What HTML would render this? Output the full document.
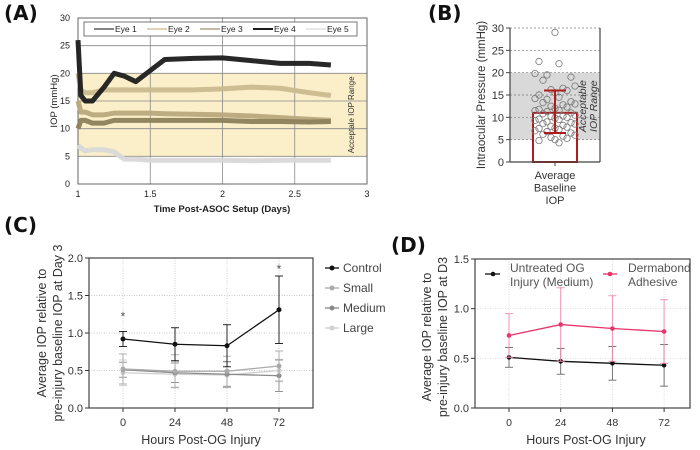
<!DOCTYPE html>
<html><head><meta charset="utf-8"><style>
body{margin:0;background:#fff;width:700px;height:450px;overflow:hidden}
svg{display:block;font-family:"Liberation Sans",sans-serif}
</style></head><body>
<svg id="fig" width="700" height="450" viewBox="0 0 700 450"></svg>
<script>
// ---- Panel A data ----
const aTimes=[1.0,1.02,1.05,1.1,1.18,1.25,1.32,1.4,1.5,1.6,1.8,2.0,2.2,2.4,2.6,2.75];
const aEye1=[10,11.5,11.5,11,11,11.5,11.5,11.5,11.5,11.5,11.5,11.5,11.3,11.3,11.2,11.3];
const aEye2=[20,17,16.5,16.5,17,17,17,17,17,17,17,17.2,17.5,17.3,16.5,16];
const aEye3=[15,13,13,12.5,12.5,12.8,12.8,12.8,12.8,12.7,12.6,12.5,12.3,12,11.7,11.5];
const aEye4=[26,16,15,15,17.5,20,19.5,18.5,20.5,22.5,22.7,22.8,22.3,21.8,21.8,21.5];
const aEye5=[7,6.5,6,6.2,6.2,5.8,4.5,4.5,4.3,4.3,4.3,4.3,4.2,4.3,4.3,4.3];
const aLegend=["Eye 1","Eye 2","Eye 3","Eye 4","Eye 5"];
const aXTicks=[1,1.5,2,2.5,3];
const aYTicks=[0,5,10,15,20,25,30];
// ---- Panel B data ----
const bPoints=[29,22.5,22,19.8,19.5,19,18.3,17,16.5,16.2,16,15.5,15,14.5,14.2,14,13.5,13.3,13,12.8,12.5,12.3,12,11.8,11.6,11.5,11.3,11,10.8,10.5,10.3,10.2,10,9.8,9.6,9.5,9.3,9,8.8,8.6,8.5,8.2,8,7.8,7.6,7.5,7.3,7,6.8,6.5,6.2,6,5.8,5.5,5.3,5,4.8,4.3];
const bMean=11, bLow=6.5, bHigh=16;
const bYTicks=[0,5,10,15,20,25,30];
// ---- Panel C data ----
const cCats=[0,24,48,72];
const cControl=[0.92,0.85,0.83,1.31], cControlErr=[0.1,0.22,0.28,0.45];
const cSmall=[0.52,0.49,0.49,0.56], cSmallErr=[0.2,0.22,0.2,0.2];
const cMedium=[0.51,0.47,0.45,0.43], cMediumErr=[0.1,0.13,0.17,0.21];
const cLarge=[0.47,0.45,0.44,0.5], cLargeErr=[0.17,0.17,0.17,0.15];
const cYTicks=[0,0.5,1,1.5,2];
const cStars=[[0,1.25],[72,1.88]];
// ---- Panel D data ----
const dUntreated=[0.51,0.47,0.45,0.43], dUntreatedErr=[0.1,0.13,0.17,0.21];
const dDerma=[0.73,0.84,0.8,0.77], dDermaErr=[0.22,0.37,0.33,0.32];
const dYTicks=[0,0.5,1,1.5];

const NS="http://www.w3.org/2000/svg", svg=document.getElementById('fig');
function mk(tag,attrs,parent,text){const e=document.createElementNS(NS,tag);for(const k in attrs)e.setAttribute(k,attrs[k]);if(text!==undefined)e.textContent=text;(parent||svg).appendChild(e);return e;}
function grp(name){const g=mk('g',{});return g;}

// panel labels
[["(A)",4,20],["(B)",428,20],["(C)",4,232],["(D)",391,252]].forEach(p=>{
 const t=mk('text',{x:p[1],y:p[2],'font-size':20,'font-weight':'bold',fill:'#111','font-family':'"DejaVu Sans",sans-serif'},svg,p[0]);
 });

// ===== Panel A =====
(function(){
 const g=grp('panel-a-chart');
 const x=v=>78+(v-1)/2*289, y=v=>184-v/30*166;
 mk('rect',{x:x(1),y:y(20),width:x(3)-x(1),height:y(5)-y(20),fill:'#fbefc9'},g);
 aXTicks.forEach(t=>{mk('line',{x1:x(t),x2:x(t),y1:y(0),y2:y(30),stroke:'#888','stroke-width':0.8},g);
  mk('text',{x:x(t),y:197,'font-size':9,'text-anchor':'middle',fill:'#222'},g,String(t));});
 aYTicks.forEach(t=>{mk('line',{x1:x(1),x2:x(3),y1:y(t),y2:y(t),stroke:'#888','stroke-width':0.8},g);
  mk('text',{x:70,y:y(t)+3,'font-size':9,'text-anchor':'end',fill:'#222'},g,String(t));});
 mk('rect',{x:x(1),y:y(30),width:x(3)-x(1),height:y(0)-y(30),fill:'none',stroke:'#666','stroke-width':1},g);
 const series=[[aEye5,'#d8d8d8'],[aEye3,'#b7a87e'],[aEye1,'#8c7f5c'],[aEye2,'#c9b98f'],[aEye4,'#1c1c1c']];
 series.forEach((s,i)=>{const p=mk('polyline',{points:aTimes.map((t,j)=>x(t)+','+y(s[0][j])).join(' '),fill:'none',stroke:s[1],'stroke-width':5,'stroke-linejoin':'round',opacity:0.95},g);
  });
 const lt=mk('text',{transform:`translate(354,${y(12.5)}) rotate(-90)`,'font-size':8,'text-anchor':'middle',fill:'#333'},g,'Acceptale IOP Range');
 
 const lg=grp('legend');g.appendChild(lg);
 mk('rect',{x:84,y:22,width:273,height:14,fill:'#fff',stroke:'#555','stroke-width':0.8},lg);
 const lc=['#3a3a3a','#c9b98f','#a09370','#1c1c1c','#dadada'];
 aLegend.forEach((n,i)=>{const bx=94+i*53;mk('line',{x1:bx,x2:bx+20,y1:29,y2:29,stroke:lc[i],'stroke-width':i==3?2:1.2},lg);
  const t=mk('text',{x:bx+21,y:32,'font-size':8.5,fill:'#222'},lg,n);});
 mk('text',{transform:`translate(57,${y(15)}) rotate(-90)`,'font-size':9.5,'text-anchor':'middle',fill:'#222'},g,'IOP (mmHg)');
 mk('text',{x:222,y:212,'font-size':9.5,'font-weight':'bold','text-anchor':'middle',fill:'#222'},g,'Time Post-ASOC Setup (Days)');
})();

// ===== Panel B =====
(function(){
 const g=grp('panel-b-chart');
 const L=510,R=600,y=v=>162-v/30*134;
 mk('rect',{x:L,y:y(20),width:R-L,height:y(5)-y(20),fill:'#d9d9d9'},g);
 bYTicks.forEach(t=>{if(t>0)mk('line',{x1:L,x2:R,y1:y(t),y2:y(t),stroke:'#777','stroke-width':0.7,'stroke-dasharray':'2,2'},g);
  mk('line',{x1:L-4,x2:L,y1:y(t),y2:y(t),stroke:'#444'},g);
  mk('text',{x:L-6,y:y(t)+4,'font-size':11,'text-anchor':'end',fill:'#333'},g,String(t));});
 const bar=mk('rect',{x:533,y:y(bMean),width:44,height:y(0)-y(bMean),fill:'#fff',stroke:'#b01c1c','stroke-width':2},g);
 
 const cx=555;
 const jit=[0,-8,8,-16,16,-4,4,-12,12,-20,20];
 bPoints.forEach((v,i)=>{const off=jit[(i*3)%11];const c=mk('circle',{cx:cx+off,cy:y(v),r:3.2,fill:'none',stroke:'#777','stroke-width':0.8},g);
  });
 mk('line',{x1:cx,x2:cx,y1:y(bLow),y2:y(bHigh),stroke:'#b01c1c','stroke-width':2},g);
 mk('line',{x1:cx-11,x2:cx+11,y1:y(bLow),y2:y(bLow),stroke:'#b01c1c','stroke-width':2},g);
 mk('line',{x1:cx-11,x2:cx+11,y1:y(bHigh),y2:y(bHigh),stroke:'#b01c1c','stroke-width':2},g);
 mk('line',{x1:L,x2:L,y1:y(30),y2:y(0),stroke:'#444','stroke-width':1.2},g);
 mk('line',{x1:L,x2:R,y1:y(0),y2:y(0),stroke:'#444','stroke-width':1.2},g);
 mk('line',{x1:R,x2:R,y1:y(30),y2:y(0),stroke:'#444','stroke-width':1.2},g);
 mk('line',{x1:cx,x2:cx,y1:y(0),y2:y(0)+4,stroke:'#444'},g);
 mk('text',{transform:`translate(586,${y(12.5)}) rotate(-90)`,'font-size':10.5,'font-style':'italic','text-anchor':'middle',fill:'#333'},g,'Acceptable');
 mk('text',{transform:`translate(597,${y(12.5)}) rotate(-90)`,'font-size':10.5,'font-style':'italic','text-anchor':'middle',fill:'#333'},g,'IOP Range');
 mk('text',{transform:`translate(485,${y(15)}) rotate(-90)`,'font-size':11.5,'text-anchor':'middle',fill:'#333'},g,'Intraocular Pressure (mmHg)');
 ['Average','Baseline','IOP'].forEach((s,i)=>mk('text',{x:cx,y:179+i*12.5,'font-size':11,'text-anchor':'middle',fill:'#333'},g,s));
})();

function errBar(g,cx,cy,lo,hi,col){mk('line',{x1:cx,x2:cx,y1:lo,y2:hi,stroke:col,'stroke-width':0.9},g);
 mk('line',{x1:cx-4,x2:cx+4,y1:lo,y2:lo,stroke:col,'stroke-width':0.9},g);mk('line',{x1:cx-4,x2:cx+4,y1:hi,y2:hi,stroke:col,'stroke-width':0.9},g);}

// ===== Panel C =====
(function(){
 const g=grp('panel-c-chart');
 const L=89,R=313,x=v=>123+v/24*52,y=v=>408-v/2*150;
 cCats.forEach(c=>{mk('line',{x1:x(c),x2:x(c),y1:y(2),y2:y(0),stroke:'#bbb','stroke-width':0.7,'stroke-dasharray':'1,1.5'},g);
  mk('line',{x1:x(c),x2:x(c),y1:y(0),y2:y(0)+4,stroke:'#333'},g);
  mk('text',{x:x(c),y:426,'font-size':11,'text-anchor':'middle',fill:'#333'},g,String(c));});
 cYTicks.forEach(t=>{if(t>0)mk('line',{x1:L,x2:R,y1:y(t),y2:y(t),stroke:'#bbb','stroke-width':0.7,'stroke-dasharray':'1,1.5'},g);
  mk('line',{x1:L-4,x2:L,y1:y(t),y2:y(t),stroke:'#333'},g);
  mk('text',{x:L-6,y:y(t)+4,'font-size':11,'text-anchor':'end',fill:'#333'},g,t.toFixed(1));});
 mk('rect',{x:L,y:y(2),width:R-L,height:y(0)-y(2),fill:'none',stroke:'#444','stroke-width':1.2},g);
 const ser=[[cLarge,cLargeErr,'#cfcfcf','Large'],[cMedium,cMediumErr,'#8a8a8a','Medium'],[cSmall,cSmallErr,'#aaaaaa','Small'],[cControl,cControlErr,'#111','Control']];
 ser.forEach(s=>{const sg=grp('series-'+s[3].toLowerCase());g.appendChild(sg);
  cCats.forEach((c,i)=>errBar(sg,x(c),y(s[0][i]),y(s[0][i]-s[1][i]),y(s[0][i]+s[1][i]),s[2]));
  mk('polyline',{points:cCats.map((c,i)=>x(c)+','+y(s[0][i])).join(' '),fill:'none',stroke:s[2],'stroke-width':1.3},sg);
  cCats.forEach((c,i)=>mk('circle',{cx:x(c),cy:y(s[0][i]),r:2.5,fill:s[2]},sg));});
 cStars.forEach(s=>mk('text',{x:x(s[0]),y:y(s[1])+6,'font-size':12,'text-anchor':'middle',fill:'#555'},g,'*'));
 const lg=grp('legend');g.appendChild(lg);
 [['Control','#111'],['Small','#aaa'],['Medium','#8a8a8a'],['Large','#cfcfcf']].forEach((s,i)=>{const yy=268+i*20;
  mk('line',{x1:325,x2:339,y1:yy,y2:yy,stroke:s[1],'stroke-width':1.3},lg);mk('circle',{cx:332,cy:yy,r:2.5,fill:s[1]},lg);
  const t=mk('text',{x:343,y:yy+4,'font-size':12,fill:'#444'},lg,s[0]);});
 mk('text',{transform:'translate(46,333) rotate(-90)','font-size':12.5,'text-anchor':'middle',fill:'#333'},g,'Average IOP relative to');
 mk('text',{transform:'translate(62,333) rotate(-90)','font-size':12.5,'text-anchor':'middle',fill:'#333'},g,'pre-injury baseline IOP at Day 3');
 mk('text',{x:201,y:444,'font-size':12.5,'text-anchor':'middle',fill:'#333'},g,'Hours Post-OG Injury');
})();

// ===== Panel D =====
(function(){
 const g=grp('panel-d-chart');
 const L=475,R=690,x=v=>509+v/24*51.7,y=v=>408-v/1.5*149;
 cCats.forEach(c=>{mk('line',{x1:x(c),x2:x(c),y1:y(1.5),y2:y(0),stroke:'#ccc','stroke-width':0.7,'stroke-dasharray':'1,1.5'},g);
  mk('line',{x1:x(c),x2:x(c),y1:y(0),y2:y(0)+4,stroke:'#333'},g);
  mk('text',{x:x(c),y:426,'font-size':10.5,'text-anchor':'middle',fill:'#333'},g,String(c));});
 dYTicks.forEach(t=>{if(t>0)mk('line',{x1:L,x2:R,y1:y(t),y2:y(t),stroke:'#ccc','stroke-width':0.7,'stroke-dasharray':'1,1.5'},g);
  mk('line',{x1:L-4,x2:L,y1:y(t),y2:y(t),stroke:'#333'},g);
  mk('text',{x:L-6,y:y(t)+4,'font-size':11,'text-anchor':'end',fill:'#333'},g,t.toFixed(1));});
 mk('rect',{x:L,y:y(1.5),width:R-L,height:y(0)-y(1.5),fill:'none',stroke:'#444','stroke-width':1.2},g);
 [[dUntreated,dUntreatedErr,'#111','untreated'],[dDerma,dDermaErr,'#e8336b','dermabond']].forEach(s=>{const sg=grp('series-'+s[3]);g.appendChild(sg);
  cCats.forEach((c,i)=>errBar(sg,x(c),y(s[0][i]),y(s[0][i]-s[1][i]),y(s[0][i]+s[1][i]),s[2]=='#111'?'#666':'#f08aa8'));
  mk('polyline',{points:cCats.map((c,i)=>x(c)+','+y(s[0][i])).join(' '),fill:'none',stroke:s[2],'stroke-width':1.3},sg);
  cCats.forEach((c,i)=>mk('circle',{cx:x(c),cy:y(s[0][i]),r:2.3,fill:s[2]},sg));});
 const lg=grp('legend');g.appendChild(lg);
 mk('line',{x1:485,x2:500,y1:274,y2:274,stroke:'#111','stroke-width':1.3},lg);mk('circle',{cx:493,cy:274,r:2.3,fill:'#111'},lg);
 mk('text',{x:510,y:272,'font-size':12,fill:'#555'},lg,'Untreated OG');
 mk('text',{x:510,y:286,'font-size':12,fill:'#555'},lg,'Injury (Medium)');
 mk('line',{x1:603,x2:617,y1:274,y2:274,stroke:'#e8336b','stroke-width':1.3},lg);mk('circle',{cx:610,cy:274,r:2.3,fill:'#e8336b'},lg);
 mk('text',{x:628,y:272,'font-size':12,fill:'#555'},lg,'Dermabond');
 mk('text',{x:628,y:286,'font-size':12,fill:'#555'},lg,'Adhesive');
 mk('text',{transform:'translate(431,337) rotate(-90)','font-size':12.5,'text-anchor':'middle',fill:'#333'},g,'Average IOP relative to');
 mk('text',{transform:'translate(447,337) rotate(-90)','font-size':12.5,'text-anchor':'middle',fill:'#333'},g,'pre-injury baseline IOP at D3');
 mk('text',{x:586,y:444,'font-size':12.5,'text-anchor':'middle',fill:'#333'},g,'Hours Post-OG Injury');
})();
</script>
</body></html>
